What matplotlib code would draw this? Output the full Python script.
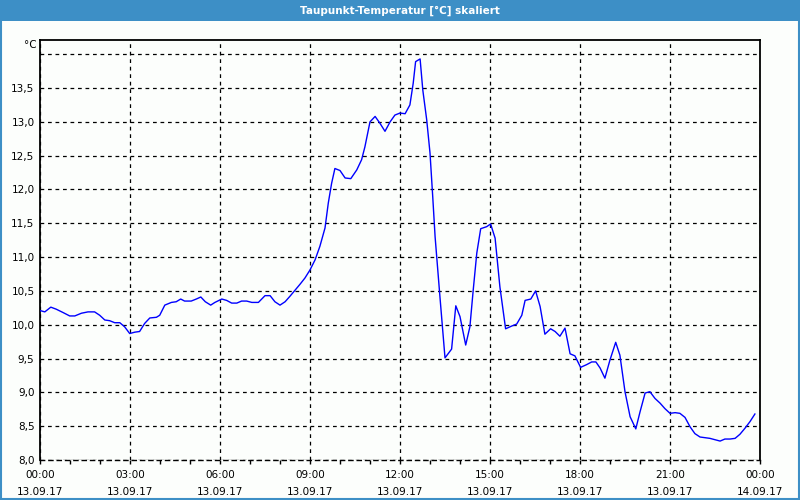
import matplotlib
matplotlib.use("Agg")
import matplotlib.pyplot as plt
from matplotlib.ticker import FixedLocator, FuncFormatter
from matplotlib.patches import Rectangle

title = "Taupunkt-Temperatur [°C] skaliert"
unit = "°C"

hours = [0.0, 0.16, 0.36, 0.54, 0.77, 0.99, 1.16, 1.38, 1.6, 1.82, 1.99, 2.16, 2.32, 2.49,
         2.66, 2.82, 2.99, 3.16, 3.32, 3.49, 3.66, 3.88, 3.99, 4.16, 4.38, 4.54, 4.69, 4.82,
         5.04, 5.21, 5.36, 5.51, 5.69, 5.83, 6.06, 6.22, 6.39, 6.56, 6.72, 6.89, 7.06, 7.28,
         7.5, 7.67, 7.83, 8.0, 8.17, 8.33, 8.5, 8.67, 8.83, 9.0, 9.17, 9.33, 9.5, 9.61, 9.72,
         9.83, 10.0, 10.17, 10.36, 10.56, 10.72, 10.83, 11.0, 11.17, 11.33, 11.5, 11.67, 11.83,
         12.0, 12.17, 12.33, 12.44, 12.52, 12.67, 12.76, 12.89, 13.0, 13.09, 13.17, 13.24,
         13.33, 13.44, 13.5, 13.72, 13.86, 14.0, 14.19, 14.33, 14.44, 14.56, 14.69, 14.89,
         15.02, 15.17, 15.33, 15.52, 15.72, 15.89, 16.06, 16.17, 16.36, 16.52, 16.67, 16.83,
         17.02, 17.17, 17.33, 17.5, 17.67, 17.83, 18.02, 18.22, 18.39, 18.53, 18.67, 18.83,
         19.0, 19.19, 19.33, 19.5, 19.67, 19.86, 20.0, 20.17, 20.33, 20.5, 20.67, 20.83, 21.0,
         21.17, 21.33, 21.5, 21.67, 21.83, 22.0, 22.17, 22.33, 22.5, 22.67, 22.83, 23.0,
         23.17, 23.33, 23.5, 23.67, 23.83]
dewpoint = [10.21, 10.19, 10.26, 10.23, 10.18, 10.13, 10.13, 10.17, 10.19, 10.19, 10.14, 10.07,
            10.06, 10.03, 10.03, 9.97, 9.87, 9.89, 9.90, 10.02, 10.10, 10.11, 10.14, 10.29,
            10.33, 10.34, 10.38, 10.35, 10.35, 10.38, 10.41, 10.34, 10.29, 10.33, 10.38, 10.36,
            10.32, 10.32, 10.35, 10.35, 10.33, 10.33, 10.43, 10.43, 10.34, 10.29, 10.34, 10.42,
            10.51, 10.60, 10.69, 10.81, 10.96, 11.16, 11.43, 11.80, 12.09, 12.31, 12.28, 12.17,
            12.16, 12.29, 12.44, 12.63, 13.00, 13.08, 12.98, 12.86, 13.00, 13.10, 13.13, 13.12,
            13.25, 13.57, 13.89, 13.93, 13.47, 13.03, 12.54, 11.90, 11.30, 10.91, 10.42, 9.82,
            9.51, 9.64, 10.28, 10.12, 9.70, 9.97, 10.51, 11.06, 11.42, 11.45, 11.49, 11.28,
            10.56, 9.94, 9.98, 10.01, 10.14, 10.36, 10.38, 10.50, 10.27, 9.86, 9.94, 9.90,
            9.83, 9.95, 9.57, 9.54, 9.37, 9.41, 9.45, 9.45, 9.36, 9.21, 9.48, 9.74, 9.55, 9.01,
            8.64, 8.46, 8.71, 8.99, 9.01, 8.91, 8.84, 8.76, 8.69, 8.70, 8.69, 8.63, 8.49, 8.39,
            8.34, 8.33, 8.32, 8.30, 8.28, 8.31, 8.31, 8.32, 8.38, 8.47, 8.57, 8.68]

x_ticks = [0, 3, 6, 9, 12, 15, 18, 21, 24]
x_labels = ["00:00\n13.09.17", "03:00\n13.09.17", "06:00\n13.09.17", "09:00\n13.09.17",
            "12:00\n13.09.17", "15:00\n13.09.17", "18:00\n13.09.17", "21:00\n13.09.17",
            "00:00\n14.09.17"]
y_ticks = [8.0, 8.5, 9.0, 9.5, 10.0, 10.5, 11.0, 11.5, 12.0, 12.5, 13.0, 13.5, 14.0]
y_labels = ["8,0", "8,5", "9,0", "9,5", "10,0", "10,5", "11,0", "11,5", "12,0", "12,5",
            "13,0", "13,5", ""]

bg = "#fcfefc"
blue_bar = "#3d8fc6"

fig = plt.figure(figsize=(8, 5), dpi=100, facecolor=bg)
# title bar and border
fig.patches.append(Rectangle((0, 1 - 21 / 500), 1, 21 / 500, transform=fig.transFigure,
                             facecolor=blue_bar, edgecolor="none", zorder=0))
fig.patches.append(Rectangle((0.5 / 800, 1.5 / 500), 1 - 2 / 800, 1 - 3 / 500,
                             transform=fig.transFigure, facecolor="none",
                             edgecolor=blue_bar, linewidth=1.5, zorder=0))
fig.text(0.5, 1 - 11 / 500, title, ha="center", va="center", color="white",
         fontsize=7.5, fontweight="bold", family="DejaVu Sans")

ax = fig.add_axes([40 / 800, 40 / 500, 720 / 800, 420 / 500])
ax.set_facecolor(bg)
ax.plot(hours, dewpoint, color="#0000ff", linewidth=1.0, zorder=3)

ax.set_xlim(0, 24)
ax.set_ylim(8.0, 14.21)

ax.xaxis.set_major_locator(FixedLocator(x_ticks))
ax.set_xticklabels(x_labels, fontsize=7.5, linespacing=1.9)
ax.xaxis.set_minor_locator(FixedLocator(list(range(0, 25))))
ax.tick_params(axis="x", which="both", direction="out", length=3, width=1, color="black",
               pad=4)
ax.set_yticks(y_ticks)
ax.set_yticklabels(y_labels, fontsize=7.5)
ax.tick_params(axis="y", which="both", length=0, pad=4)

ax.grid(True, which="major", color="black", linestyle=(0, (3, 3)), linewidth=0.9)
ax.set_axisbelow(True)

for s in ["left", "top", "right"]:
    ax.spines[s].set_color("black")
    ax.spines[s].set_linewidth(1.3)
ax.spines["bottom"].set_color("black")
ax.spines["bottom"].set_linewidth(1.0)
ax.spines["bottom"].set_linestyle((0, (3, 3)))

ax.text(-0.005, 1.0 - 5 / 420, unit, transform=ax.transAxes, ha="right", va="center",
        fontsize=7.5)

fig.savefig("out.png", dpi=100, facecolor=bg)
